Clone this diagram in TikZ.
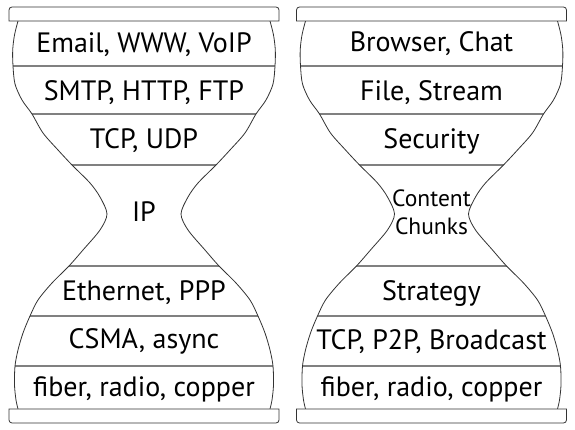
\documentclass[tikz,border=0pt]{standalone}
\usepackage{fontspec}
\setmainfont{PT Sans}
\newcommand\hgleft{plot[smooth] coordinates {(-126,409) (-129.5,395) (-131.3,380) (-131,364) (-129,346) (-122,330) (-112,316) (-101,297) (-86,280) (-72,265) (-54,247) (-44,233) (-37,216) (-44,200) (-61,180) (-75,164) (-92,147) (-106,130) (-114,114) (-121,97) (-126,80) (-129,64) (-129.5,45) (-128,30) (-126,21)}}
\newcommand\hgright{plot[smooth] coordinates {(126,21) (128,30) (129.5,45) (129,64) (126,80) (121,97) (114,114) (106,130) (92,147) (75,164) (61,180) (44,200) (37,216) (44,233) (54,247) (72,265) (86,280) (101,297) (112,316) (122,330) (129,346) (131,364) (131.3,380) (129.5,395) (126,409)}}
\newcommand\hgclosed{plot[smooth] coordinates {(-126,409) (-129.5,395) (-131.3,380) (-131,364) (-129,346) (-122,330) (-112,316) (-101,297) (-86,280) (-72,265) (-54,247) (-44,233) (-37,216) (-44,200) (-61,180) (-75,164) (-92,147) (-106,130) (-114,114) (-121,97) (-126,80) (-129,64) (-129.5,45) (-128,30) (-126,21)} -- plot[smooth] coordinates {(126,21) (128,30) (129.5,45) (129,64) (126,80) (121,97) (114,114) (106,130) (92,147) (75,164) (61,180) (44,200) (37,216) (44,233) (54,247) (72,265) (86,280) (101,297) (112,316) (122,330) (129,346) (131,364) (131.3,380) (129.5,395) (126,409)} -- cycle}
\begin{document}
\begin{tikzpicture}[x=1pt,y=1pt,
  outline/.style={draw=black!80, line width=0.8pt},
  divider/.style={draw=black!50, line width=1.6pt},
  lbl/.style={anchor=base, inner sep=0pt, font=\fontsize{28}{30}\selectfont, text=black},
  smalllbl/.style={anchor=center, inner sep=0pt, align=center, font=\fontsize{23.5}{28}\selectfont, text=black},
  bar/.style={draw=black!80, line width=0.8pt, fill=white}]
\useasboundingbox (0,0) rectangle (575,430);
\foreach \cx in {144,431.5}{
  \begin{scope}[shift={(\cx,0)}]
    \fill[white] \hgclosed;
    \begin{scope}
      \clip \hgclosed;
      \foreach \yy in {364,316,265,164,114,64}
        \draw[divider] (-140,\yy) -- (140,\yy);
    \end{scope}
    \draw[outline] \hgleft;
    \draw[outline] \hgright;
    \draw[bar] (-135,409) -- (-135,420) arc[start angle=180,end angle=90,radius=3] -- (132,423) arc[start angle=90,end angle=0,radius=3] -- (135,409) -- cycle;
    \draw[bar] (-135,21) -- (-135,10) arc[start angle=180,end angle=270,radius=3] -- (132,7) arc[start angle=270,end angle=360,radius=3] -- (135,21) -- cycle;
  \end{scope}
}
\node[lbl] (l1) at (144,377.5) {Email, WWW, VoIP};
\node[lbl] (l2) at (144,329.5) {SMTP, HTTP, FTP};
\node[lbl] (l3) at (144,281) {TCP, UDP};
\node[lbl] (l4) at (144,208.5) {IP};
\node[lbl] (l5) at (144,129) {Ethernet, PPP};
\node[lbl] (l6) at (144,81) {CSMA, async};
\node[lbl] (l7) at (144,33) {fiber, radio, copper};
\node[lbl] (r1) at (431.5,378) {Browser, Chat};
\node[lbl] (r2) at (431.5,329.5) {File, Stream};
\node[lbl] (r3) at (431.5,281) {Security};
\node[smalllbl] (r4) at (431.5,217.5) {Content\\Chunks};
\node[lbl] (r5) at (431.5,129) {Strategy};
\node[lbl] (r6) at (431.5,80) {TCP, P2P, Broadcast};
\node[lbl] (r7) at (431.5,33) {fiber, radio, copper};
\end{tikzpicture}
\end{document}
